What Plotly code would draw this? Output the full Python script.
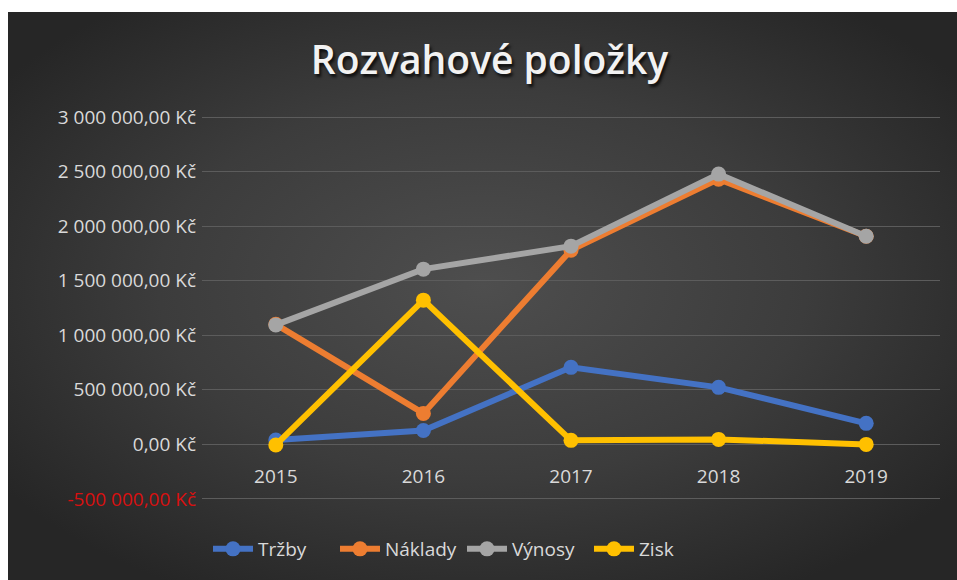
import base64
import plotly.graph_objects as go

# Data
years = ["2015", "2016", "2017", "2018", "2019"]
trzby = [40000, 128000, 706000, 523000, 193000]
naklady = [1100000, 284000, 1780000, 2431000, 1908000]
vynosy = [1095000, 1606000, 1817000, 2477000, 1908000]
zisk = [-5000, 1322000, 37000, 46000, 0]

series_names = ["Tržby", "Náklady", "Výnosy", "Zisk"]
series_values = [trzby, naklady, vynosy, zisk]
series_colors = ["#4472C4", "#ED7D31", "#A5A5A5", "#FFC000"]

y_ticks = [-500000, 0, 500000, 1000000, 1500000, 2000000, 2500000, 3000000]


def kc(value):
    """Czech currency format: space thousands separator, comma decimals."""
    s = f"{abs(value):,.2f}".replace(",", " ").replace(".", ",")
    s = ("-" if value < 0 else "") + s + " Kč"
    if value < 0:
        return f'<span style="color:#d81010">{s}</span>'
    return s


y_ticktext = [kc(v) for v in y_ticks]

W, H = 957, 580
L, R, T, B = 202, 17, 116, 80
plot_w = W - L - R
plot_h = H - T - B

FONT = "Open Sans"
TXT = "#d9d9d9"

fig = go.Figure()
for name, vals, col in zip(series_names, series_values, series_colors):
    fig.add_trace(go.Scatter(
        x=years, y=vals, name=name, mode="lines+markers",
        line=dict(color=col, width=6),
        marker=dict(color=col, size=15),
    ))

# radial gradient backdrop of the chart area
svg = (
    '<svg xmlns="http://www.w3.org/2000/svg" width="949" height="568" '
    'preserveAspectRatio="none">'
    '<defs><radialGradient id="g" cx="50%" cy="48%" r="62%">'
    '<stop offset="0" stop-color="#4e4e4e"/>'
    '<stop offset="0.55" stop-color="#3c3c3c"/>'
    '<stop offset="1" stop-color="#262626"/>'
    '</radialGradient></defs>'
    '<rect width="100%" height="100%" fill="url(#g)"/></svg>'
)
src = "data:image/svg+xml;base64," + base64.b64encode(svg.encode()).decode()

x0_px, y0_px = 8, 12
fig.add_layout_image(
    source=src, xref="paper", yref="paper",
    x=(x0_px - L) / plot_w, y=(H - B - y0_px) / plot_h,
    sizex=(W - x0_px) / plot_w, sizey=(H - y0_px) / plot_h,
    xanchor="left", yanchor="top", sizing="stretch", layer="below",
)

y_lo, y_hi = -500000, 3000000
pad = 9500  # keeps the outermost gridlines away from the clipped edges
r_lo, r_hi = y_lo - pad, y_hi + pad

fig.update_layout(
    width=W, height=H,
    margin=dict(l=L, r=R, t=T, b=B),
    paper_bgcolor="white",
    plot_bgcolor="rgba(0,0,0,0)",
    title=dict(
        text="Rozvahové položky",
        x=489.5 / W, xref="container", xanchor="center",
        y=1 - 60 / H, yref="container", yanchor="middle",
        font=dict(family=FONT, size=39, color="#f2f2f2", weight=600,
                  shadow="2px 3px 3px rgba(0,0,0,0.75)"),
    ),
    xaxis=dict(
        type="category", categoryorder="array", categoryarray=years,
        range=[-0.5, len(years) - 0.5],
        anchor="free", position=(0 - r_lo) / (r_hi - r_lo),
        showline=False, showgrid=False, zeroline=False, ticks="",
        tickfont=dict(family=FONT, size=19, color=TXT),
        ticklabelstandoff=19,
    ),
    yaxis=dict(
        range=[r_lo, r_hi],
        tickvals=y_ticks, ticktext=y_ticktext,
        showgrid=True, gridcolor="#5c5c5c", gridwidth=1,
        zeroline=False, showline=False, ticks="",
        tickfont=dict(family=FONT, size=19, color=TXT),
        ticklabelstandoff=5,
    ),
    legend=dict(
        orientation="h", x=(208 - L) / plot_w, xanchor="left",
        y=(H - B - 549) / plot_h, yanchor="middle",
        bgcolor="rgba(0,0,0,0)",
        font=dict(family=FONT, size=19, color=TXT),
        itemwidth=40, tracegroupgap=0,
        entrywidth=72, entrywidthmode="pixels",
    ),
    showlegend=True,
)

fig.write_html("out.html")
